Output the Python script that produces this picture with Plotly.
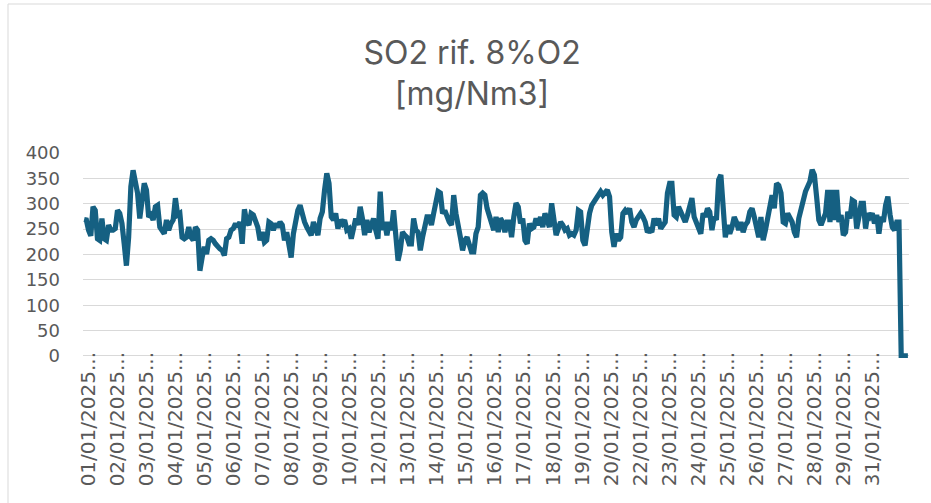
import plotly.graph_objects as go

# Values (mg/Nm3), grouped by stretch of the month
seg1 = [269, 268, 248, 237, 294, 287, 231, 228, 271, 231, 228, 258, 248, 248, 251,
        287, 281, 261, 221, 178, 234, 334, 366, 347, 321, 271, 307, 340, 327, 274,
        278, 268, 294, 297, 254, 248, 241, 268, 248, 261, 268, 311, 278, 281, 234,
        231, 234, 254, 234, 228, 254, 248, 168, 194, 215, 201, 228]
seg2 = [231, 228, 221, 214, 211, 208, 198, 231, 234, 248, 251, 261, 254, 264, 221,
        289, 264, 258, 281, 278, 264, 254, 228, 244, 224, 228, 264, 261, 248, 261,
        254, 264, 258, 228, 244, 221, 194, 241, 268, 287, 297, 274, 264, 254, 244,
        238, 264, 248, 238, 271, 284, 327, 360, 340, 274, 268, 281, 251, 268, 261]
seg3 = [268, 248, 251, 231, 248, 271, 258, 294, 271, 238, 268, 244, 258, 271, 248,
        231, 324, 248, 264, 238, 264, 248, 287, 241, 188, 208, 244, 238, 234, 221,
        221, 271, 248, 244, 208, 234, 258, 274, 274, 258, 281, 301, 324, 321, 281,
        287, 274, 264, 258, 317, 281, 261, 234, 208, 228, 234, 215, 205, 205, 241,
        254, 317, 321]
seg4 = [317, 291, 274, 258, 248, 274, 244, 271, 264, 244, 264, 264, 234, 274, 301,
        294, 261, 271, 228, 221, 261, 251, 254, 271, 258, 274, 254, 281, 268, 254,
        301, 261, 238, 251, 264, 258, 248, 251, 238, 241, 238, 248, 287, 284, 228,
        218, 258, 281, 297, 304, 307, 314, 324, 317, 321, 327, 314, 244, 215, 241,
        228, 234, 281, 287]
seg5 = [281, 291, 264, 254, 268, 274, 281, 274, 264, 244, 248, 244, 271, 258, 271,
        251, 258, 264, 321, 340, 340, 278, 274, 294, 284, 274, 264, 278, 291, 311,
        274, 264, 248, 241, 281, 274, 291, 284, 248, 274, 268, 347, 357, 307, 234,
        258, 241, 254, 274, 264, 248, 264, 244, 258, 264, 284, 291, 274, 258, 234,
        274, 228]
seg6 = [248, 274, 287, 317, 291, 340, 336, 321, 264, 261, 281, 274, 264, 244, 234,
        271, 291, 304, 324, 334, 344, 367, 357, 314, 268, 258, 274, 281, 327, 264,
        327, 268, 327, 264, 278, 238, 244, 284, 271, 307, 304, 251, 274, 301, 301,
        251, 281, 274, 281, 261, 278, 241, 274, 264, 297, 314, 278, 254, 248, 264,
        264]
tail = [0, 0, 0, 0]

values = seg1 + seg2 + seg3 + seg4 + seg5 + seg6 + tail

# Day labels shown on the category axis
label_days = ["01", "02", "03", "04", "05", "06", "07", "08", "09", "10",
              "12", "13", "14", "15", "16", "17", "18", "19", "20",
              "22", "23", "24", "25", "26", "27", "28", "29", "31"]
tick_labels = [d + "/01/2025..." for d in label_days]

y_ticks = [0, 50, 100, 150, 200, 250, 300, 350, 400]

N = len(values)
x = list(range(N))
tick_start = 1.8
tick_step = 13.05
tickvals = [tick_start + tick_step * k for k in range(len(tick_labels))]

TXT = "#595959"
GRID = "#d9d9d9"
TITLE_FONT = "Inter"
TICK_FONT = "DejaVu Sans"

fig = go.Figure()
fig.add_trace(go.Scatter(
    x=x, y=values, mode="lines",
    line=dict(color="#156082", width=5.2, shape="linear"),
    hoverinfo="y", showlegend=False,
))

fig.update_layout(
    template="none",
    width=931, height=503,
    paper_bgcolor="white", plot_bgcolor="white",
    margin=dict(l=83, r=22, t=153, b=145, autoexpand=False),
    title=dict(
        text="SO2 rif. 8%O2<br>[mg/Nm3]",
        font=dict(family=TITLE_FONT, size=32, color=TXT),
        x=0.507, xanchor="center", xref="container",
        y=0.873, yanchor="top", yref="container",
    ),
    xaxis=dict(
        range=[-0.5, N - 0.5],
        tickmode="array", tickvals=tickvals, ticktext=tick_labels,
        tickangle=-90, ticks="", showgrid=False, zeroline=False,
        showline=False, automargin=False,
        ticklabelstandoff=-11,
        tickfont=dict(family=TICK_FONT, size=20, color=TXT),
    ),
    yaxis=dict(
        range=[-4, 400],
        tickmode="array", tickvals=y_ticks,
        ticks="", showgrid=True, gridcolor=GRID, gridwidth=1,
        zeroline=True, zerolinecolor=GRID, zerolinewidth=1,
        showline=False, automargin=False,
        ticklabelstandoff=22,
        tickfont=dict(family=TICK_FONT, size=18, color=TXT),
    ),
    shapes=[
        dict(type="line", xref="paper", yref="paper",
             x0=-75 / 826, x1=2, y0=1 + 149 / 205, y1=1 + 149 / 205,
             line=dict(color=GRID, width=1)),
        dict(type="line", xref="paper", yref="paper",
             x0=-75 / 826, x1=-75 / 826, y0=-2, y1=1 + 149 / 205,
             line=dict(color=GRID, width=1)),
    ],
)

fig.write_html("out.html", config={"displayModeBar": False},
               post_script="document.body.style.margin='0px';")
